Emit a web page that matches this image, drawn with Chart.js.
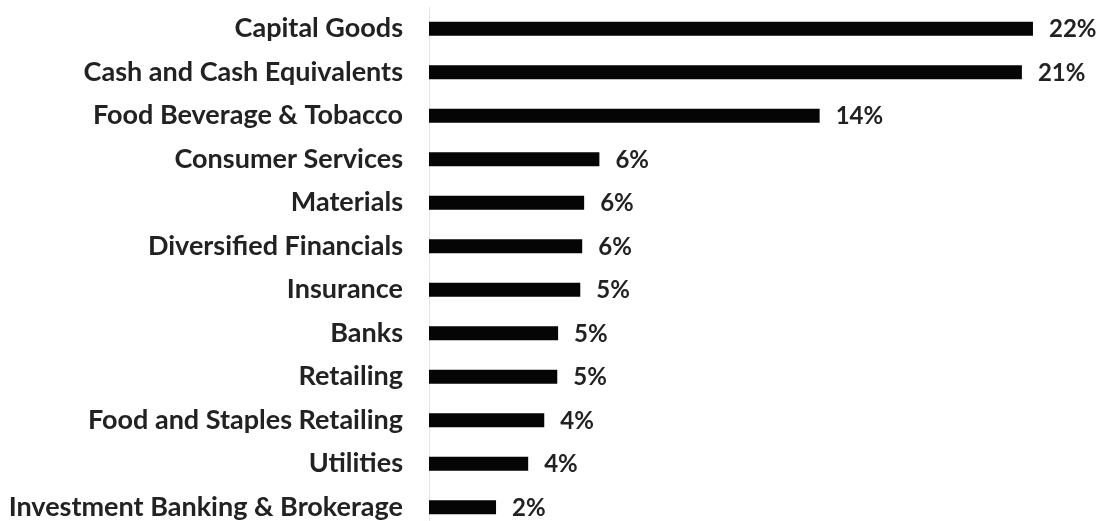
<!DOCTYPE html>
<html>
<head>
<meta charset="utf-8">
<script src="https://cdn.jsdelivr.net/npm/chart.js@4/dist/chart.umd.min.js"></script>
<style>
  html, body { margin: 0; padding: 0; background: #fff; overflow: hidden; }
  canvas { display: block; }
</style>
</head>
<body>
<canvas id="chart" width="1105" height="530"></canvas>
<script>
const sectors = [
  "Capital Goods",
  "Cash and Cash Equivalents",
  "Food Beverage & Tobacco",
  "Consumer Services",
  "Materials",
  "Diversified Financials",
  "Insurance",
  "Banks",
  "Retailing",
  "Food and Staples Retailing",
  "Utilities",
  "Investment Banking & Brokerage",
];
// portfolio weight, percent
const weights = [21.8, 21.4, 14.1, 6.15, 5.6, 5.53, 5.46, 4.66, 4.63, 4.16, 3.58, 2.42];

const labelFont = { family: "Lato", size: 27, weight: "bold" };
const valueFont = { family: "Lato", size: 24, weight: "bold" };
const ink = "#222222";

// writes the rounded weight just past the end of each bar
const valueLabels = {
  id: "valueLabels",
  afterDatasetsDraw(chart) {
    const ctx = chart.ctx;
    const meta = chart.getDatasetMeta(0);
    ctx.save();
    ctx.font = `${valueFont.weight} ${valueFont.size}px ${valueFont.family}`;
    ctx.fillStyle = ink;
    ctx.textAlign = "left";
    ctx.textBaseline = "middle";
    meta.data.forEach((bar, i) => {
      ctx.fillText(Math.round(weights[i]) + "%", bar.x + 16, bar.y + 1);
    });
    ctx.restore();
  }
};

new Chart(document.getElementById("chart"), {
  type: "bar",
  data: {
    labels: sectors,
    datasets: [{
      data: weights,
      backgroundColor: "#050505",
      borderWidth: 0,
      categoryPercentage: 1,
      barPercentage: 0.32,
    }]
  },
  options: {
    indexAxis: "y",
    responsive: false,
    animation: false,
    layout: { padding: { top: 7, bottom: 1, left: 0, right: 0 } },
    plugins: { legend: { display: false }, tooltip: { enabled: false } },
    scales: {
      x: { display: false, min: 0, max: 24.4 },
      y: {
        // fixed label column; no extra room above/below the rows
        afterFit: (s) => {
          s.width = 429;
          s.paddingTop = 0;
          s.paddingBottom = 0;
        },
        grid: { display: false, drawTicks: false },
        border: { display: true, color: "#e4e4e4", width: 1 },
        ticks: { color: ink, font: labelFont, padding: 26 },
      }
    }
  },
  plugins: [valueLabels]
});
</script>
</body>
</html>
